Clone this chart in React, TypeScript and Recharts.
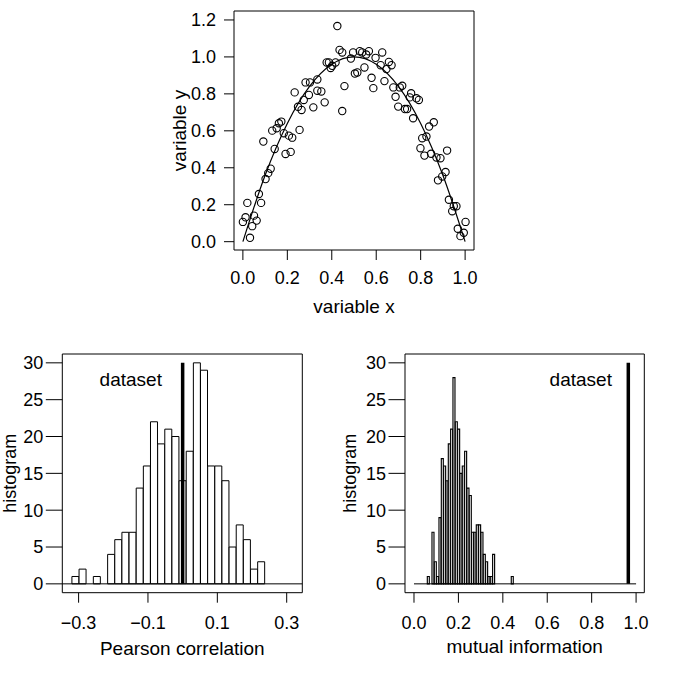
import React from "react";
import {
  Bar,
  ComposedChart,
  Line,
  ReferenceArea,
  ReferenceDot,
  ReferenceLine,
  Scatter,
  XAxis,
  YAxis,
  ZAxis,
} from "recharts";

const FONT = "'Liberation Sans', Arial, Helvetica, sans-serif";

// top panel: noisy parabola
const scatterX = [
  0.425, 0.435, 0.447, 0.486, 0.496, 0.526, 0.537, 0.567, 0.555, 0.597, 0.627, 0.62, 0.646,
  0.657, 0.669, 0.547, 0.515, 0.504, 0.579, 0.587, 0.637, 0.677, 0.706, 0.717, 0.687, 0.699,
  0.729, 0.739, 0.757, 0.751, 0.781, 0.792, 0.766, 0.859, 0.838, 0.826, 0.807, 0.799, 0.919,
  0.817, 0.847, 0.377, 0.387, 0.402, 0.417, 0.395, 0.457, 0.447, 0.335, 0.282, 0.302, 0.335,
  0.353, 0.297, 0.274, 0.368, 0.317, 0.233, 0.248, 0.264, 0.173, 0.162, 0.152, 0.132, 0.255,
  0.184, 0.207, 0.222, 0.092, 0.143, 0.192, 0.215, 0.125, 0.114, 0.102, 0.072, 0.082, 0.02,
  0.012, 0.0, 0.05, 0.062, 0.042, 0.032, 0.871, 0.889, 0.912, 0.897, 0.878, 0.927, 0.942,
  0.949, 0.961, 0.967, 1.002, 0.994, 0.979,
];
const scatterY = [
  1.167, 1.038, 1.024, 0.991, 1.024, 1.031, 1.024, 1.031, 1.013, 0.995, 1.024, 0.955, 0.934,
  0.973, 0.955, 0.943, 0.916, 0.91, 0.887, 0.831, 0.869, 0.835, 0.835, 0.844, 0.784, 0.731,
  0.718, 0.718, 0.803, 0.781, 0.776, 0.767, 0.668, 0.646, 0.623, 0.569, 0.56, 0.506, 0.493,
  0.466, 0.476, 0.97, 0.97, 0.952, 0.97, 0.94, 0.842, 0.707, 0.878, 0.862, 0.862, 0.817,
  0.813, 0.794, 0.767, 0.754, 0.727, 0.808, 0.73, 0.713, 0.65, 0.641, 0.614, 0.601, 0.605,
  0.587, 0.574, 0.563, 0.542, 0.502, 0.475, 0.486, 0.395, 0.371, 0.339, 0.258, 0.21, 0.21,
  0.132, 0.107, 0.141, 0.114, 0.084, 0.021, 0.456, 0.452, 0.377, 0.353, 0.332, 0.227, 0.165,
  0.192, 0.192, 0.07, 0.107, 0.048, 0.03,
];
const curveX = [0, 0.1, 0.2, 0.3, 0.4, 0.5, 0.6, 0.7, 0.8, 0.9, 1];
const curveY = [0, 0.36, 0.64, 0.84, 0.96, 1.0, 0.96, 0.84, 0.64, 0.36, 0];

// bottom left: permutation histogram of Pearson correlation
const pearsonBinStart = -0.3193;
const pearsonBinWidth = 0.0206;
const pearsonCounts = [
  1, 2, 0, 1, 0, 4, 6, 7, 7, 13, 16, 22, 19, 21, 20, 14, 18, 30, 29, 16, 16, 14, 5, 8, 6, 2, 3,
];
const pearsonDataset = 0;

// bottom right: permutation histogram of mutual information
const miBinStart = 0.06;
const miBinWidth = 0.0105;
const miCounts = [
  1, 0, 7, 3, 1, 9, 17, 16, 14, 19, 21, 28, 22, 21, 15, 16, 18, 13, 12, 7, 7, 8, 8, 7, 4, 3, 1,
  1, 4, 0, 0, 0, 0, 0, 0, 0, 1,
];
const miDataset = 0.965;

const topXTicks = [0, 0.2, 0.4, 0.6, 0.8, 1];
const topYTicks = [0, 0.2, 0.4, 0.6, 0.8, 1, 1.2];
const histYTicks = [0, 5, 10, 15, 20, 25, 30];
const pearsonXTicks = [-0.3, -0.1, 0.1, 0.3];
const miXTicks = [0, 0.2, 0.4, 0.6, 0.8, 1];

const points = scatterX.map((x, i) => ({ x, y: scatterY[i] }));
const curve = curveX.map((x, i) => ({ x, y: curveY[i] }));
const pearsonRows = pearsonCounts.map((count, i) => ({
  x: pearsonBinStart + (i + 0.5) * pearsonBinWidth,
  count,
}));
const miRows = miCounts.map((count, i) => ({
  x: miBinStart + (i + 0.5) * miBinWidth,
  count,
}));

const tickStyle = { fontSize: 18, fill: "#000", fontFamily: FONT };
const oneDigit = (v: number) => (v < 0 ? "\u2212" + Math.abs(v).toFixed(1) : v.toFixed(1));

function Title({
  x,
  y,
  text,
  vertical,
  size = 19,
}: {
  x: number;
  y: number;
  text: string;
  vertical?: boolean;
  size?: number;
}) {
  return (
    <text
      x={x}
      y={y}
      textAnchor="middle"
      fontSize={size}
      fontFamily={FONT}
      fill="#000"
      transform={vertical ? `rotate(-90 ${x} ${y})` : undefined}
    >
      {text}
    </text>
  );
}

function TopPanel() {
  const xDom: [number, number] = [-0.04, 1.04];
  const yDom: [number, number] = [-0.045, 1.2485];
  return (
    <div style={{ position: "absolute", left: 150, top: 0 }}>
      <ComposedChart width={340} height={330} margin={{ top: 11, right: 16, bottom: 20, left: 4 }}>
        <XAxis
          dataKey="x"
          type="number"
          domain={xDom}
          ticks={topXTicks}
          tickFormatter={oneDigit}
          allowDataOverflow
          axisLine={false}
          tickLine={{ stroke: "#000" }}
          tickSize={10}
          tickMargin={11}
          tick={tickStyle}
          height={60}
          label={{ content: () => <Title x={204} y={313} text="variable x" /> }}
        />
        <YAxis
          type="number"
          domain={yDom}
          ticks={topYTicks}
          tickFormatter={oneDigit}
          allowDataOverflow
          axisLine={false}
          tickLine={{ stroke: "#000" }}
          tickSize={10}
          tickMargin={8}
          tick={tickStyle}
          width={80}
          label={{ content: () => <Title x={36} y={130.5} text="variable y" vertical /> }}
        />
        <ZAxis range={[42, 42]} />
        <ReferenceArea x1={xDom[0]} x2={xDom[1]} y1={yDom[0]} y2={yDom[1]} fill="none" stroke="#000" strokeWidth={1} />
        <Line
          data={curve}
          dataKey="y"
          type="monotone"
          dot={false}
          stroke="#000"
          strokeWidth={1.2}
          isAnimationActive={false}
        />
        <Scatter
          data={points}
          dataKey="y"
          shape="circle"
          fill="none"
          stroke="#000"
          strokeWidth={1.1}
          isAnimationActive={false}
        />
      </ComposedChart>
    </div>
  );
}

type HistProps = {
  left: number;
  rows: { x: number; count: number }[];
  xDom: [number, number];
  xTicks: number[];
  yAxisWidth: number;
  marginRight: number;
  xTitle: string;
  titleX: number;
  titleY: number;
  dataset: number;
  labelX: number;
  baseline: [number, number] | null;
  barStroke: number;
};

function HistPanel(p: HistProps) {
  const yDom: [number, number] = [-1.2, 31.2];
  return (
    <div style={{ position: "absolute", left: p.left, top: 340 }}>
      <ComposedChart
        width={320}
        height={345}
        data={p.rows}
        barCategoryGap={0}
        barGap={0}
        margin={{ top: 14, right: p.marginRight, bottom: 22.3, left: 0 }}
      >
        <XAxis
          dataKey="x"
          type="number"
          domain={p.xDom}
          ticks={p.xTicks}
          tickFormatter={oneDigit}
          allowDataOverflow
          axisLine={false}
          tickLine={{ stroke: "#000" }}
          tickSize={10}
          tickMargin={14}
          tick={tickStyle}
          height={70}
          label={{ content: () => <Title x={p.titleX} y={p.titleY} text={p.xTitle} /> }}
        />
        <YAxis
          type="number"
          domain={yDom}
          ticks={histYTicks}
          allowDataOverflow
          axisLine={false}
          tickLine={{ stroke: "#000" }}
          tickSize={16.5}
          tickMargin={2.5}
          tick={tickStyle}
          width={p.yAxisWidth}
          label={{ content: () => <Title x={16.5} y={133.3} text="histogram" vertical size={18} /> }}
        />
        <ReferenceArea x1={p.xDom[0]} x2={p.xDom[1]} y1={yDom[0]} y2={yDom[1]} fill="none" stroke="#000" strokeWidth={1} />
        {p.baseline ? (
          <ReferenceLine
            segment={[
              { x: p.baseline[0], y: 0 },
              { x: p.baseline[1], y: 0 },
            ]}
            stroke="#000"
            strokeWidth={1}
          />
        ) : (
          <ReferenceLine y={0} stroke="#000" strokeWidth={1} />
        )}
        <Bar dataKey="count" fill="#fff" stroke="#000" strokeWidth={p.barStroke} isAnimationActive={false} />
        <ReferenceLine
          segment={[
            { x: p.dataset, y: 0 },
            { x: p.dataset, y: 30 },
          ]}
          stroke="#000"
          strokeWidth={3.5}
        />
        <ReferenceDot
          x={p.labelX}
          y={27.8}
          r={0}
          fill="none"
          stroke="none"
          label={{ value: "dataset", position: "center", fontSize: 19, fill: "#000", fontFamily: FONT }}
        />
      </ComposedChart>
    </div>
  );
}

export default function App() {
  return (
    <div
      style={{
        position: "absolute",
        left: 0,
        top: 0,
        width: 685,
        height: 685,
        background: "#fff",
        fontFamily: FONT,
      }}
    >
      <TopPanel />
      <HistPanel
        left={0}
        rows={pearsonRows}
        xDom={[-0.347, 0.345]}
        xTicks={pearsonXTicks}
        yAxisWidth={62.3}
        marginRight={17.7}
        xTitle="Pearson correlation"
        titleX={182.3}
        titleY={315}
        dataset={pearsonDataset}
        labelX={-0.1496}
        baseline={null}
        barStroke={1}
      />
      <HistPanel
        left={340}
        rows={miRows}
        xDom={[-0.0405, 1.037]}
        xTicks={miXTicks}
        yAxisWidth={65}
        marginRight={15.7}
        xTitle="mutual information"
        titleX={184.7}
        titleY={313.3}
        dataset={miDataset}
        labelX={0.751}
        baseline={[0, 1]}
        barStroke={1.15}
      />
    </div>
  );
}
